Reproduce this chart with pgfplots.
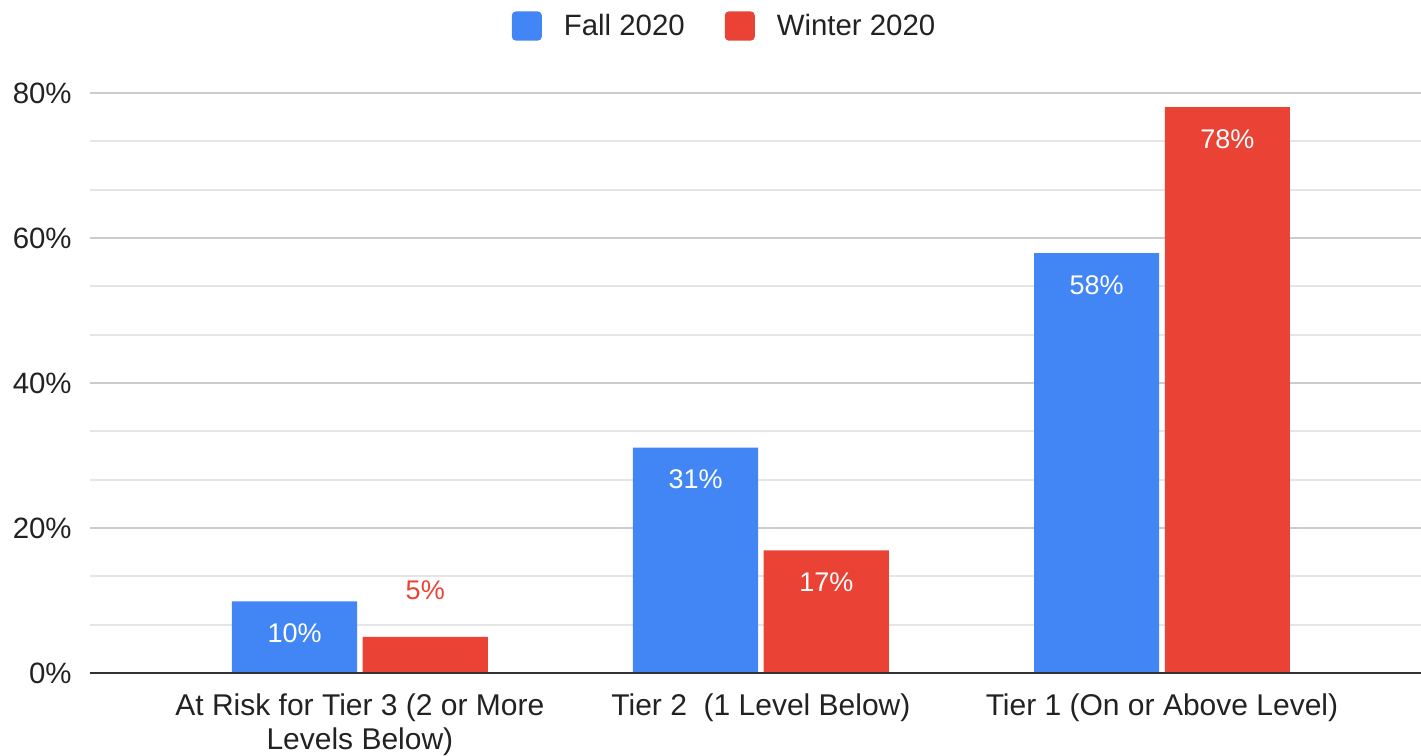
\documentclass[border=0pt]{standalone}
\usepackage{pgfplots}
\pgfplotsset{compat=1.18}
\usepackage{fontspec}
\setmainfont{Liberation Sans}
\definecolor{fallblue}{HTML}{4285F4}
\definecolor{winred}{HTML}{EA4335}
\definecolor{txt}{HTML}{222222}
\begin{document}
\begin{tikzpicture}
\path[use as bounding box] (0,0) rectangle (710.5pt,378pt);
\begin{axis}[
  at={(45pt,41.5pt)}, anchor=south west,
  scale only axis, width=665.5pt, height=290pt,
  xmin=-0.673, xmax=2.646, ymin=0, ymax=80,
  ybar, bar width=0.312,
  axis line style={draw=none},
  tick style={draw=none}, major tick length=0pt, minor tick length=0pt,
  /pgf/number format/assume math mode=true,
  ytick={0,20,40,60,80},
  minor ytick={6.6667,13.3333,26.6667,33.3333,46.6667,53.3333,66.6667,73.3333},
  ymajorgrids, yminorgrids,
  major grid style={draw=black!20, line width=1pt},
  minor grid style={draw=black!10, line width=1pt},
  yticklabel={\pgfmathprintnumber{\tick}\%},
  yticklabel style={font=\fontsize{14.7}{17}\selectfont, text=txt, inner sep=0pt, anchor=east, xshift=-9pt},
  xtick={0,1,2},
  xticklabels={{At Risk for Tier 3 (2 or More\\Levels Below)},{Tier 2\ \ (1 Level Below)},{Tier 1 (On or Above Level)}},
  xticklabel style={font=\fontsize{15}{17}\selectfont, text=txt, align=center, inner sep=0pt, anchor=north, yshift=-10pt},
  legend columns=2,
  legend style={at={(0.476,1.1155)}, anchor=center, draw=none, fill=none,
    inner sep=0pt, nodes={inner sep=0pt, text=txt},
    font=\fontsize{14.7}{17}\selectfont,
    /tikz/every odd column/.append style={column sep=11pt},
    /tikz/every even column/.append style={column sep=20pt}},
  nodes near coords style={font=\fontsize{13.5}{16}\selectfont},
]
\addplot[fill=fallblue, draw=none, bar shift=-0.163,
  point meta=explicit symbolic, nodes near coords,
  every node near coord/.append style={text=white, anchor=center, yshift=-16pt},
  legend image code/.code={\fill[fallblue, rounded corners=2pt] (0pt,-7.3pt) rectangle (15pt,7.3pt);}]
  coordinates {(0,9.88)[10\%] (1,31.08)[31\%] (2,57.93)[58\%]};
\addlegendentry{Fall 2020}
\addplot[fill=winred, draw=none, bar shift=0.163,
  point meta=explicit symbolic, nodes near coords,
  every node near coord/.append style={text=white, anchor=center, yshift=-16pt},
  legend image code/.code={\fill[winred, rounded corners=2pt] (0pt,-7.3pt) rectangle (15pt,7.3pt);}]
  coordinates {(0,4.97)[{}] (1,16.9)[17\%] (2,78.07)[78\%]};
\addlegendentry{Winter 2020}
\addplot[forget plot, fill=none, draw=none, bar shift=0.163,
  point meta=explicit symbolic, nodes near coords,
  every node near coord/.append style={text=winred, anchor=center, yshift=23.5pt}]
  coordinates {(0,4.97)[5\%]};
\draw[black!80, line width=1pt] (rel axis cs:0,0) -- (rel axis cs:1,0);
\end{axis}
\end{tikzpicture}
\end{document}
